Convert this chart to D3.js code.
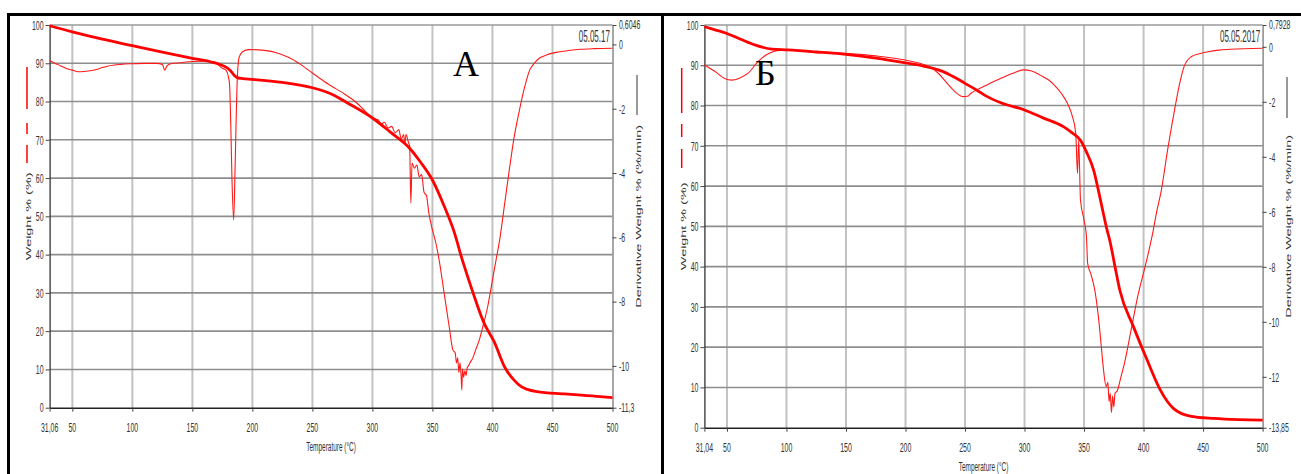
<!DOCTYPE html>
<html><head><meta charset="utf-8">
<script src="https://cdn.jsdelivr.net/npm/d3@7"></script>
<style>html,body{margin:0;padding:0;background:#fff;}svg{display:block;}</style>
</head><body>
<svg id="c" width="1301" height="474"></svg>
<script>
// ---------- DATA ----------
// Panel A
const tempWeightA = [31.06,50,75,100,125,150,165,172,178,182,185,188,192,200,225,250,267,280,300,315,331,340,350,360,367.6,375,383,393,401.5,410,418,424,429,437,446,460,474,490,500];
const weightA     = [99.8,98.2,96.3,94.6,92.9,91.3,90.4,89.8,89.0,88.0,86.8,86.2,86.0,85.8,85.0,83.6,81.8,79.5,75.7,72.0,67.8,64.2,59.5,52.5,46.4,38.5,30.8,22.1,17.2,10.7,7.2,5.5,4.8,4.2,3.9,3.6,3.3,2.9,2.6];
const tempDerivA  = [31.06,35,40,45,50,55,60,65,70,75,80,90,100,110,120,125,127,129,132,140,150,160,168,172,175,178,180,181,182,183,184.4,185.5,186.5,187.5,189,192,197,205,213,220,230,240,250,256,265,275,284,292,300,305,307,310,313,316,319,322,324,326,327,328,330,331,332,333,335,337,339,341,343,345,347,350,353,356,360,364,367,369,370,371,372,373,374,374.5,375,376,377,378,379,380,382,383,386,389,392,396,400,403,406,410,414,418,422.5,427,431,435,439,445,450,456,465,473,485,500];
const derivA      = [-0.50,-0.58,-0.66,-0.75,-0.80,-0.85,-0.84,-0.82,-0.78,-0.72,-0.67,-0.62,-0.60,-0.59,-0.59,-0.62,-0.80,-0.66,-0.60,-0.57,-0.53,-0.52,-0.55,-0.65,-0.74,-0.80,-1.00,-1.26,-2.5,-4.2,-5.46,-4.0,-2.3,-1.0,-0.39,-0.22,-0.16,-0.17,-0.20,-0.26,-0.40,-0.62,-0.89,-1.05,-1.28,-1.50,-1.73,-2.0,-2.29,-2.35,-2.48,-2.42,-2.60,-2.55,-2.75,-2.65,-2.95,-2.80,-3.1,-2.8,-3.05,-3.15,-4.93,-3.69,-3.85,-3.75,-4.12,-4.05,-4.6,-4.7,-5.24,-5.77,-6.2,-6.8,-7.8,-8.79,-9.5,-9.6,-9.91,-9.75,-10.2,-9.9,-10.4,-10.75,-10.1,-10.35,-10.15,-10.3,-10.05,-10.0,-9.85,-9.8,-9.5,-9.2,-8.78,-8.16,-7.33,-6.7,-6.08,-5.0,-3.91,-2.9,-2.04,-1.3,-0.8,-0.58,-0.43,-0.33,-0.27,-0.23,-0.18,-0.15,-0.13,-0.12];
// Panel B
const tempWeightB = [31.04,40,50,62,74,88,101,125,150,175,200,215,230,240,250,260,267.5,280,300,315,333,340,347,352,358,362,366,369,372,376,380,391.5,403,414,420,425,432,439,459,480,500];
const weightB     = [99.6,98.8,97.9,96.4,95.0,94.0,93.8,93.3,92.7,91.8,90.6,89.8,88.6,87.2,85.5,83.8,82.4,80.7,78.9,77.0,74.7,73.2,71.4,68.5,64.0,59.0,53.5,49.5,46.0,40.0,34.2,25.1,16.8,9.4,6.5,4.8,3.5,2.9,2.3,2.0,1.9];
const tempDerivB  = [31.04,40,48,54,60,68,76,85,96,110,125,150,175,200,210,220,228,235,242,248,252,255,263,270,277,285,291,299,306,313,320,325,331,336,340,343,344.5,345.5,347,350,352,353,356,359,362,364.5,366.5,368.5,370,371,372,373,374,375,376,378,381,384,389.5,395,402,408,411,415,420,426,430,434,440,447,454,463,473,500];
const derivB      = [-0.66,-0.9,-1.15,-1.21,-1.15,-0.95,-0.54,-0.24,-0.12,-0.13,-0.18,-0.24,-0.33,-0.48,-0.58,-0.72,-0.98,-1.33,-1.65,-1.81,-1.80,-1.69,-1.50,-1.35,-1.21,-1.05,-0.95,-0.84,-0.88,-1.03,-1.2,-1.39,-1.7,-2.05,-2.5,-3.14,-4.6,-3.4,-5.57,-6.3,-6.9,-7.87,-8.3,-8.84,-9.8,-10.9,-11.8,-12.36,-12.2,-12.9,-12.6,-13.3,-12.7,-13.1,-12.6,-12.5,-12.0,-11.5,-10.3,-9.09,-7.87,-6.7,-6.0,-5.2,-3.8,-2.3,-1.4,-0.72,-0.36,-0.25,-0.18,-0.12,-0.09,-0.05];
// Tick labels
const xTicks = [50,100,150,200,250,300,350,400,450,500];
const weightTicks = [0,10,20,30,40,50,60,70,80,90,100];
const derivTicksA = [0,-2,-4,-6,-8,-10];
const derivTicksB = [0,-2,-4,-6,-8,-10,-12];
const xTitle = "Temperature (°C)";
const yTitleLeft = "Weight % (%)";
const yTitleRight = "Derivative Weight % (%/min)";

// ---------- LAYOUT ----------
const panels = [
  {x0:49.6, x1:612.5, yT:25, yB:407.7, tMin:31.06, dTop:0.6046, dBot:-11.3, tMinLbl:"31,06", dTopLbl:"0,6046", dBotLbl:"-11,3",
   tw:tempWeightA, w:weightA, td:tempDerivA, d:derivA, dTicks:derivTicksA, date:"05.05.17", letter:"А", letterX:453, letterY:76,
   leftTitleX:28, rightTitleX:638.5, sampleL:27, sampleR:637,
   segL:[[67,109],[123,134],[145,163]], segR:[75,115]},
  {x0:704.4, x1:1262.6, yT:25, yB:427.7, tMin:31.04, dTop:0.7928, dBot:-13.85, tMinLbl:"31,04", dTopLbl:"0,7928", dBotLbl:"-13,85",
   tw:tempWeightB, w:weightB, td:tempDerivB, d:derivB, dTicks:derivTicksB, date:"05.05.2017", letter:"Б", letterX:755, letterY:85,
   leftTitleX:683, rightTitleX:1288.5, sampleL:681.7, sampleR:1287,
   segL:[[68,113],[124,137],[149,168]], segR:[77,118]}
];

const svg = d3.select("#c");
const FONT = "'Liberation Sans', Arial, sans-serif";

function label(x, y, txt, o) {
  const g = svg.append("g").attr("transform", `translate(${x},${y})` + (o.rot ? ` rotate(${o.rot})` : "") + ` scale(${o.sx||1},${o.sy||1})`);
  g.append("text").attr("x",0).attr("y",0).attr("dy","0.35em")
    .attr("text-anchor", o.anchor||"middle")
    .attr("font-family", o.family||FONT).attr("font-size", o.size)
    .attr("fill", o.fill||"#333").text(txt);
}

panels.forEach(p => {
  const x = d3.scaleLinear().domain([p.tMin, 500]).range([p.x0, p.x1]);
  const yW = d3.scaleLinear().domain([0, 100]).range([p.yB, p.yT]);
  const yD = d3.scaleLinear().domain([p.dBot, p.dTop]).range([p.yB, p.yT]);
  const g = svg.append("g");

  // grid
  g.selectAll(".vg").data(xTicks.filter(t => t < 500)).join("line")
    .attr("x1", d => x(d)).attr("x2", d => x(d)).attr("y1", p.yT).attr("y2", p.yB)
    .attr("stroke", "#c2c2c2").attr("stroke-width", 2);
  g.selectAll(".hg").data(weightTicks.filter(t => t > 0 && t < 100)).join("line")
    .attr("x1", p.x0).attr("x2", p.x1).attr("y1", d => yW(d)).attr("y2", d => yW(d))
    .attr("stroke", "#8e8e8e").attr("stroke-width", 1.6);
  g.append("line").attr("x1", p.x0).attr("x2", p.x1).attr("y1", p.yT).attr("y2", p.yT)
    .attr("stroke", "#9a9a9a").attr("stroke-width", 1.5);

  // axes (ticks only)
  const ax = svg.append("g").attr("transform", `translate(0,${p.yB})`)
    .call(d3.axisBottom(x).tickValues([p.tMin].concat(xTicks)).tickSize(4).tickSizeOuter(0).tickFormat(""));
  ax.select(".domain").attr("stroke", "#222").attr("stroke-width", 1.5);
  ax.selectAll(".tick line").attr("stroke", "#444");
  const al = svg.append("g").attr("transform", `translate(${p.x0},0)`)
    .call(d3.axisLeft(yW).tickValues(weightTicks).tickSize(4).tickSizeOuter(0).tickFormat(""));
  al.select(".domain").attr("stroke", "#333").attr("stroke-width", 1.3);
  al.selectAll(".tick line").attr("stroke", "#444");
  const ar = svg.append("g").attr("transform", `translate(${p.x1},0)`)
    .call(d3.axisRight(yD).tickValues([p.dTop].concat(p.dTicks, [p.dBot])).tickSize(4).tickSizeOuter(0).tickFormat(""));
  ar.select(".domain").attr("stroke", "#8a8a8a").attr("stroke-width", 1.5);
  ar.selectAll(".tick line").attr("stroke", "#444");

  // tick labels
  const tk = {size:8.5, sx:0.82, sy:1.6, fill:"#333"};
  label(x(p.tMin), p.yB + 19.5, p.tMinLbl, tk);
  xTicks.forEach(t => label(x(t), p.yB + 19.5, String(t), tk));
  weightTicks.forEach(v => label(p.x0 - 6, yW(v), String(v), Object.assign({anchor:"end"}, tk)));
  label(p.x1 + 6.5, yD(p.dTop) - 1, p.dTopLbl, Object.assign({anchor:"start"}, tk));
  p.dTicks.forEach(v => label(p.x1 + 6.5, yD(v), String(v), Object.assign({anchor:"start"}, tk)));
  label(p.x1 + 6.5, yD(p.dBot), p.dBotLbl, Object.assign({anchor:"start"}, tk));

  // titles
  label((p.x0 + p.x1) / 2, p.yB + 39, xTitle, {size:7.9, sx:0.82, sy:1.6, fill:"#333"});
  const cy = (p.yT + p.yB) / 2;
  label(p.leftTitleX, cy, yTitleLeft, {size:7.5, rot:-90, sx:1.92, sy:1, fill:"#333"});
  label(p.rightTitleX, cy, yTitleRight, {size:7.5, rot:-90, sx:1.92, sy:1, fill:"#333"});

  // line-style samples
  p.segL.forEach(s => svg.append("line").attr("x1", p.sampleL).attr("x2", p.sampleL).attr("y1", s[0]).attr("y2", s[1])
    .attr("stroke", "#ff0000").attr("stroke-width", 1.5));
  svg.append("line").attr("x1", p.sampleR).attr("x2", p.sampleR).attr("y1", p.segR[0]).attr("y2", p.segR[1])
    .attr("stroke", "#333").attr("stroke-width", 1);

  // date
  label(p.x1 - 2.5, 36, p.date, {size:9.8, sx:0.82, sy:1.7, anchor:"end", fill:"#333"});

  // curves
  const lineW = d3.line().curve(d3.curveMonotoneX).x((d, i) => x(p.tw[i])).y(d => yW(d));
  const lineD = d3.line().curve(d3.curveMonotoneX).x((d, i) => x(p.td[i])).y(d => yD(d));
  svg.append("path").datum(p.d).attr("d", lineD).attr("fill", "none")
    .attr("stroke", "#ff1a1a").attr("stroke-width", 1.1);
  svg.append("path").datum(p.w).attr("d", lineW).attr("fill", "none")
    .attr("stroke", "#ff0000").attr("stroke-width", 2.8).attr("stroke-linejoin", "round");

  // big letter
  svg.append("text").attr("x", p.letterX).attr("y", p.letterY)
    .attr("font-family", "'Liberation Serif', 'Times New Roman', serif").attr("font-size", 36)
    .attr("fill", "#000").text(p.letter);
});

// outer frame
svg.append("line").attr("x1", 7).attr("x2", 1301).attr("y1", 14.5).attr("y2", 14.5).attr("stroke", "#000").attr("stroke-width", 3);
svg.append("line").attr("x1", 8.5).attr("x2", 8.5).attr("y1", 13).attr("y2", 474).attr("stroke", "#000").attr("stroke-width", 3);
svg.append("line").attr("x1", 662.5).attr("x2", 662.5).attr("y1", 13).attr("y2", 474).attr("stroke", "#000").attr("stroke-width", 3);
</script>
</body></html>
